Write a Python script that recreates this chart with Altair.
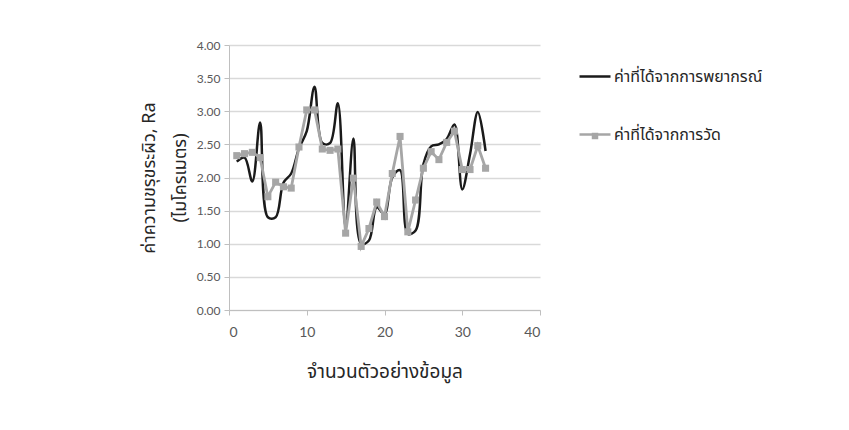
import altair as alt
import pandas as pd

# ---- data ----
sample_no = list(range(1, 34))
predicted = [2.24, 2.30, 1.94, 2.83, 1.40, 1.40, 1.92, 2.06, 2.44, 2.70,
             3.37, 2.52, 2.52, 3.12, 1.25, 2.59, 1.00, 1.05, 1.55, 1.45,
             2.00, 2.11, 1.15, 1.20, 2.20, 2.47, 2.50, 2.58, 2.80, 1.82,
             2.35, 2.99, 2.40]
measured = [2.33, 2.36, 2.38, 2.30, 1.71, 1.93, 1.86, 1.84, 2.46, 3.02,
            3.02, 2.43, 2.41, 2.43, 1.16, 1.99, 0.96, 1.23, 1.63, 1.41,
            2.06, 2.62, 1.18, 1.66, 2.14, 2.39, 2.27, 2.53, 2.70, 2.12,
            2.12, 2.48, 2.14]
series_keys = ["pred", "meas"]
series_labels = ["ค่าที่ได้จากการพยากรณ์", "ค่าที่ได้จากการวัด"]
series_colors = ["#1a1a1a", "#a6a6a6"]
x_ticks = [0, 10, 20, 30, 40]
y_ticks = [0, 0.5, 1.0, 1.5, 2.0, 2.5, 3.0, 3.5, 4.0]
x_title = "จำนวนตัวอย่างข้อมูล"
y_title = ["ค่าความขรุขระผิว, Ra", "(ไมโครเมตร)"]

df = pd.DataFrame({
    "x": sample_no * 2,
    "y": predicted + measured,
    "s": [series_keys[0]] * len(sample_no) + [series_keys[1]] * len(sample_no),
})

THAI = "Tahoma, 'Noto Sans Thai', 'Noto Sans', sans-serif"
NUM = "Lato, 'Open Sans', sans-serif"

label_expr = "datum.value == 'pred' ? '%s' : '%s'" % (series_labels[0], series_labels[1])

color_legend = alt.Legend(
    title=None, orient="none", legendX=349, legendY=14.5,
    symbolType="stroke", symbolSize=961, symbolStrokeWidth=2.5,
    rowPadding=33, padding=0, labelOffset=2, labelExpr=label_expr,
    labelFont=THAI, labelFontSize=16, labelColor="#262626", labelLimit=400,
)
color_scale = alt.Scale(domain=series_keys, range=series_colors)

x_enc = alt.X("x:Q", scale=alt.Scale(domain=[0, 40], nice=False),
              axis=alt.Axis(values=x_ticks, title=x_title, grid=False,
                            labelFont=NUM, labelFontSize=14, labelColor="#595959",
                            labelPadding=10, tickSize=5, tickColor="#bfbfbf",
                            domainColor="#bfbfbf", titleFont=THAI, titleFontSize=19,
                            titleFontWeight="normal", titleColor="#262626",
                            titlePadding=23))
y_enc = alt.Y("y:Q", scale=alt.Scale(domain=[0, 4], nice=False),
              axis=alt.Axis(values=y_ticks, format=".2f", title=y_title,
                            grid=True, gridColor="#d9d9d9", gridWidth=1.3,
                            labelFont=NUM, labelFontSize=12, labelColor="#595959",
                            labelPadding=4, tickSize=5, tickColor="#bfbfbf",
                            domainColor="#bfbfbf", titleFont=THAI, titleFontSize=18,
                            titleFontWeight="normal", titleColor="#262626",
                            titleLineHeight=31, titlePadding=7))

base = alt.Chart(df)

pred_line = base.transform_filter("datum.s == 'pred'").mark_line(
    interpolate="catmull-rom", strokeWidth=2.5
).encode(x=x_enc, y=y_enc,
         color=alt.Color("s:N", scale=color_scale, legend=color_legend))

meas_line = base.transform_filter("datum.s == 'meas'").mark_line(
    strokeWidth=2.8
).encode(x=x_enc, y=y_enc,
         color=alt.Color("s:N", scale=color_scale, legend=color_legend))

meas_pts = base.transform_filter("datum.s == 'meas'").mark_point(
    filled=True, opacity=1, size=50, color=series_colors[1]
).encode(
    x=x_enc, y=y_enc,
    shape=alt.Shape("s:N", scale=alt.Scale(domain=["meas"], range=["square"]),
                    legend=alt.Legend(title=None, orient="none", legendX=362.5,
                                      legendY=87.5, symbolSize=42, padding=0,
                                      labelExpr="''", labelFontSize=1,
                                      symbolFillColor=series_colors[1],
                                      symbolStrokeWidth=0)),
)

chart = alt.layer(pred_line, meas_line, meas_pts).properties(
    width=311, height=265,
    padding={"left": 229, "top": 45, "right": 309, "bottom": 120},
    autosize=alt.AutoSizeParams(type="none"),
    background="white",
).configure_view(stroke=None)

chart.save("out.html", embed_options={"renderer": "svg", "actions": False})
